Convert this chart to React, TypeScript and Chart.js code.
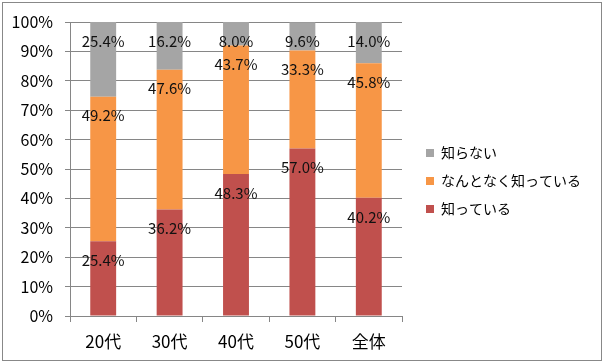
import React, { useEffect, useRef } from "react";
import { Chart, registerables } from "chart.js";

Chart.register(...registerables);

const categories = ["20代", "30代", "40代", "50代", "全体"];
const knowValues = [25.4, 36.2, 48.3, 57.0, 40.2];
const somewhatValues = [49.2, 47.6, 43.7, 33.3, 45.8];
const unknownValues = [25.4, 16.2, 8.0, 9.6, 14.0];
const seriesNames = ["知っている", "なんとなく知っている", "知らない"];
const seriesColors = ["#C0504D", "#F79646", "#A5A5A5"];
const yMin = 0;
const yMax = 100;
const yStep = 10;

const FONT = "'Noto Sans CJK JP', 'Noto Sans', sans-serif";

const framePlugin = {
  id: "frame",
  beforeDraw(chart: any) {
    const ctx = chart.ctx;
    ctx.save();
    ctx.fillStyle = "#ffffff";
    ctx.fillRect(0, 0, chart.width, chart.height);
    ctx.strokeStyle = "#888888";
    ctx.lineWidth = 1;
    ctx.strokeRect(2.5, 2.5, 599, 358);
    ctx.restore();
  },
  afterLayout(chart: any) {
    const lg = chart.legend;
    if (lg) {
      const w = lg.width;
      lg.left = 412;
      lg.right = 412 + w;
      lg.top = 0;
      lg.bottom = 362;
    }
  },
};

const valueLabelPlugin = {
  id: "valueLabels",
  afterDatasetsDraw(chart: any) {
    const ctx = chart.ctx;
    ctx.save();
    ctx.font = `15px ${FONT}`;
    ctx.fillStyle = "#111111";
    ctx.textAlign = "center";
    ctx.textBaseline = "middle";
    chart.data.datasets.forEach((ds: any, di: number) => {
      const meta = chart.getDatasetMeta(di);
      meta.data.forEach((el: any, i: number) => {
        const v = ds.data[i];
        ctx.fillText(`${v.toFixed(1)}%`, el.x, el.y + 19);
      });
    });
    ctx.restore();
  },
};

export default function App() {
  const ref = useRef<HTMLCanvasElement | null>(null);
  useEffect(() => {
    document.body.style.margin = "0";
    if (!ref.current) return;
    const series = [knowValues, somewhatValues, unknownValues];
    const chart = new Chart(ref.current, {
      type: "bar",
      data: {
        labels: categories,
        datasets: series.map((d, i) => ({
          label: seriesNames[i],
          data: d,
          backgroundColor: seriesColors[i],
          borderWidth: 0,
          categoryPercentage: 1,
          barPercentage: 0.39,
        })),
      },
      options: {
        responsive: false,
        animation: false,
        devicePixelRatio: 1,
        layout: { padding: { top: 22, left: 0, right: 33, bottom: 0 } },
        plugins: {
          tooltip: { enabled: false },
          legend: {
            position: "right",
            reverse: true,
            maxWidth: 170,
            labels: {
              boxWidth: 8,
              boxHeight: 8,
              padding: 14,
              color: "#000000",
              font: { family: FONT, size: 14 },
            },
          },
        },
        scales: {
          x: {
            stacked: true,
            grid: {
              display: true,
              drawOnChartArea: false,
              drawTicks: true,
              tickLength: 6,
              color: "#868686",
              offset: true,
            },
            border: { display: true, color: "#868686" },
            ticks: {
              color: "#000000",
              font: { family: FONT, size: 17 },
              padding: 9,
            },
            afterFit(scale: any) {
              scale.height = 48;
            },
          },
          y: {
            stacked: true,
            min: yMin,
            max: yMax,
            grid: { color: "#868686", tickLength: 5, drawTicks: true },
            border: { display: true, color: "#868686" },
            ticks: {
              stepSize: yStep,
              color: "#000000",
              font: { family: FONT, size: 16 },
              padding: 12,
              callback: (v: any) => `${v}%`,
            },
            afterFit(scale: any) {
              scale.width = 70;
            },
          },
        },
      },
      plugins: [framePlugin, valueLabelPlugin],
    });
    return () => chart.destroy();
  }, []);
  return (
    <canvas
      ref={ref}
      width={605}
      height={364}
      style={{ display: "block", width: 605, height: 364 }}
    />
  );
}
